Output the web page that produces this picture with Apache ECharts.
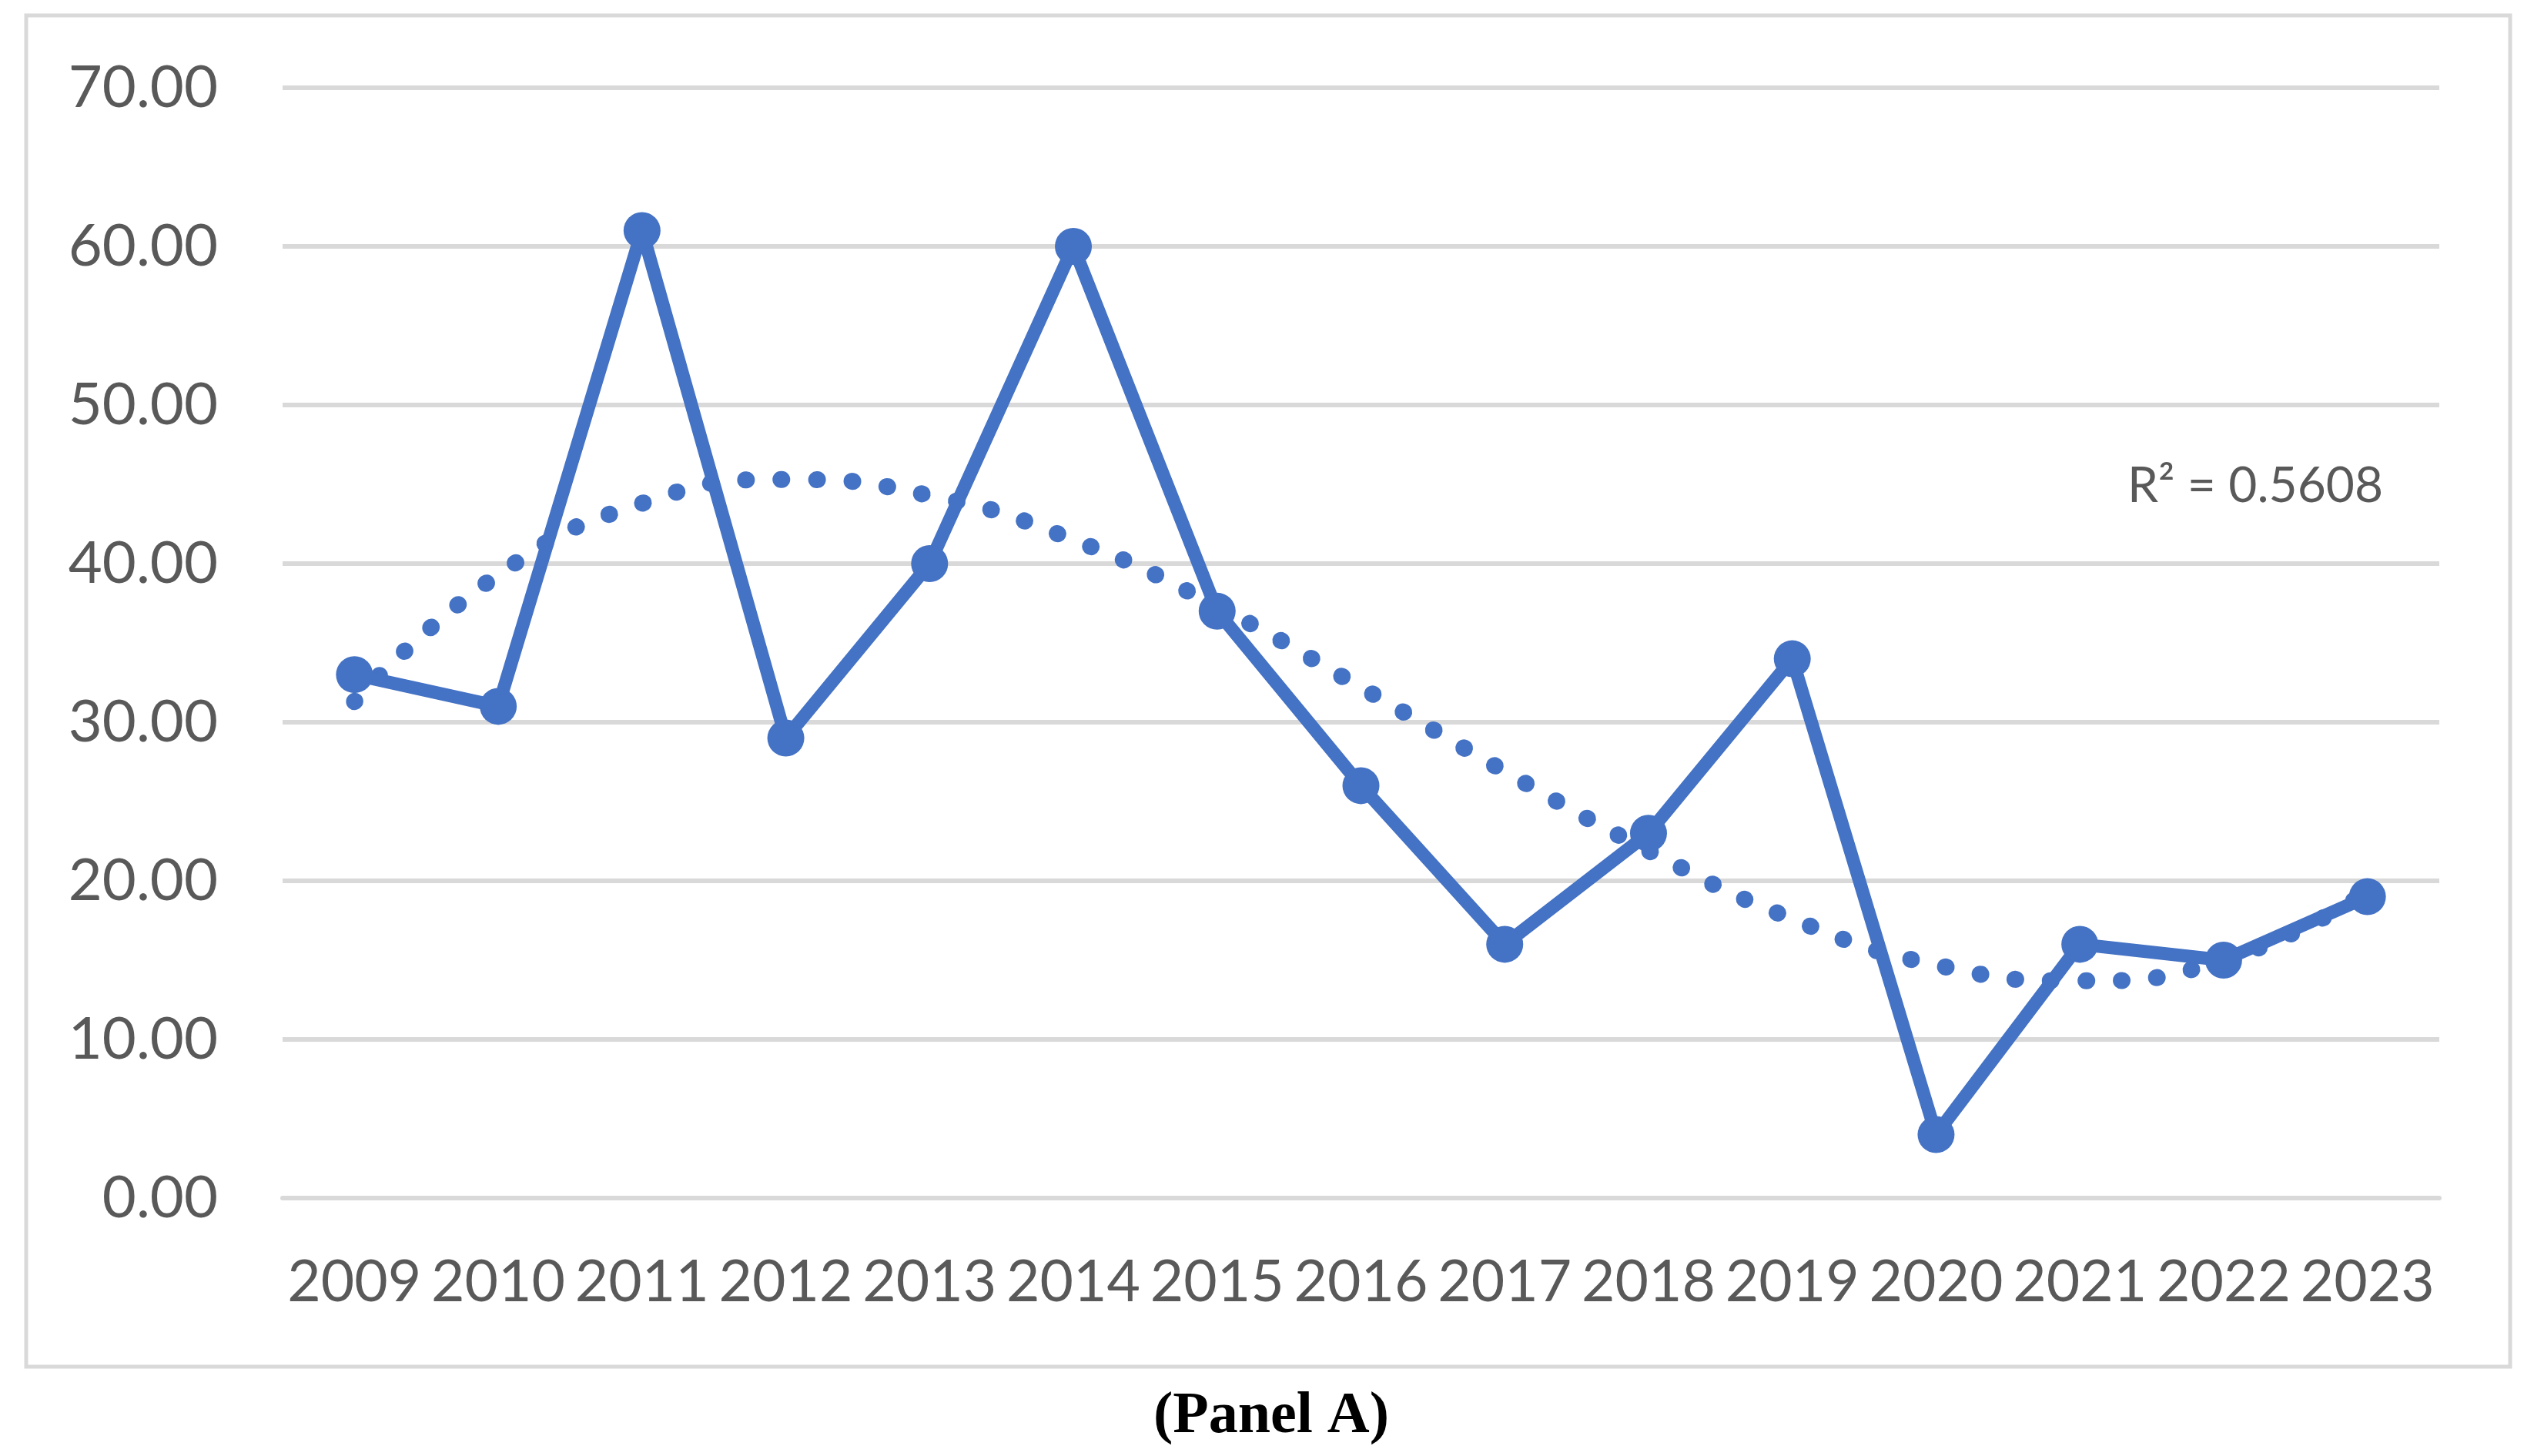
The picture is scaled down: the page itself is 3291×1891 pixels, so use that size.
<!DOCTYPE html>
<html>
<head>
<meta charset="utf-8">
<title>Panel A</title>
<script src="https://cdn.jsdelivr.net/npm/echarts@6/dist/echarts.min.js"></script>
<style>
    html, body {
        margin: 0;
        padding: 0;
        background: #ffffff;
    }
    #chart {
        width: 3291px;
        height: 1891px;
    }
</style>
</head>
<body>
<div id="chart"></div>
<script>
    // values
    const years = ['2009', '2010', '2011', '2012', '2013', '2014', '2015', '2016',
        '2017', '2018', '2019', '2020', '2021', '2022', '2023'];
    const values = [33, 31, 61, 29, 40, 60, 37, 26, 16, 23, 34, 4, 16, 15, 19];
    // dotted trend line, read at each year
    const trend = [31.3, 39.3, 43.8, 45.3, 44.3, 41.5, 37.3, 32.2, 26.9, 21.9, 17.6, 14.7, 13.7, 15.0, 19.3];
    const yTicks = [0, 10, 20, 30, 40, 50, 60, 70];
    const r2Text = 'R² = 0.5608';
    const caption = '(Panel A)';

    const blue = '#4472C4';
    const grey = '#d9d9d9';
    const textGrey = '#595959';

    const myChart = echarts.init(document.getElementById('chart'));
    let option = {
        animation: false,
        backgroundColor: '#ffffff',
        grid: {
            left: 367,
            right: 123,
            top: 114,
            bottom: 335,
            containLabel: false
        },
        xAxis: {
            type: 'category',
            data: years,
            boundaryGap: true,
            axisLine: {show: true, lineStyle: {color: grey, width: 6}},
            axisTick: {show: false},
            axisLabel: {
                color: textGrey,
                fontFamily: 'Lato',
                fontSize: 75,
                margin: 72,
                interval: 0
            }
        },
        yAxis: {
            type: 'value',
            min: yTicks[0],
            max: yTicks[yTicks.length - 1],
            interval: yTicks[1] - yTicks[0],
            axisLine: {show: false},
            axisTick: {show: false},
            splitLine: {lineStyle: {color: grey, width: 6}},
            axisLabel: {
                color: textGrey,
                fontFamily: 'Lato',
                fontSize: 76,
                margin: 84,
                formatter: v => v.toFixed(2)
            }
        },
        series: [
            {
                name: 'trend',
                type: 'line',
                data: trend,
                smooth: true,
                symbol: 'none',
                lineStyle: {color: blue, width: 22, type: [1, 45], cap: 'round'}
            },
            {
                name: 'value',
                type: 'line',
                data: values,
                symbol: 'circle',
                symbolSize: 48,
                itemStyle: {color: blue},
                lineStyle: {color: blue, width: 17}
            }
        ],
        graphic: [
            {
                type: 'rect',
                shape: {x: 34, y: 20, width: 3226, height: 1755},
                style: {fill: 'none', stroke: grey, lineWidth: 5},
                silent: true
            },
            {
                type: 'text',
                x: 2929,
                y: 631,
                style: {
                    text: r2Text,
                    fill: textGrey,
                    font: '64px Lato',
                    textAlign: 'center',
                    textVerticalAlign: 'middle'
                }
            },
            {
                type: 'text',
                x: 1651,
                y: 1840,
                style: {
                    text: caption,
                    fill: '#000000',
                    font: 'bold 76px "Liberation Serif"',
                    textAlign: 'center',
                    textVerticalAlign: 'middle'
                }
            }
        ]
    };
    myChart.setOption(option);
</script>
</body>
</html>
